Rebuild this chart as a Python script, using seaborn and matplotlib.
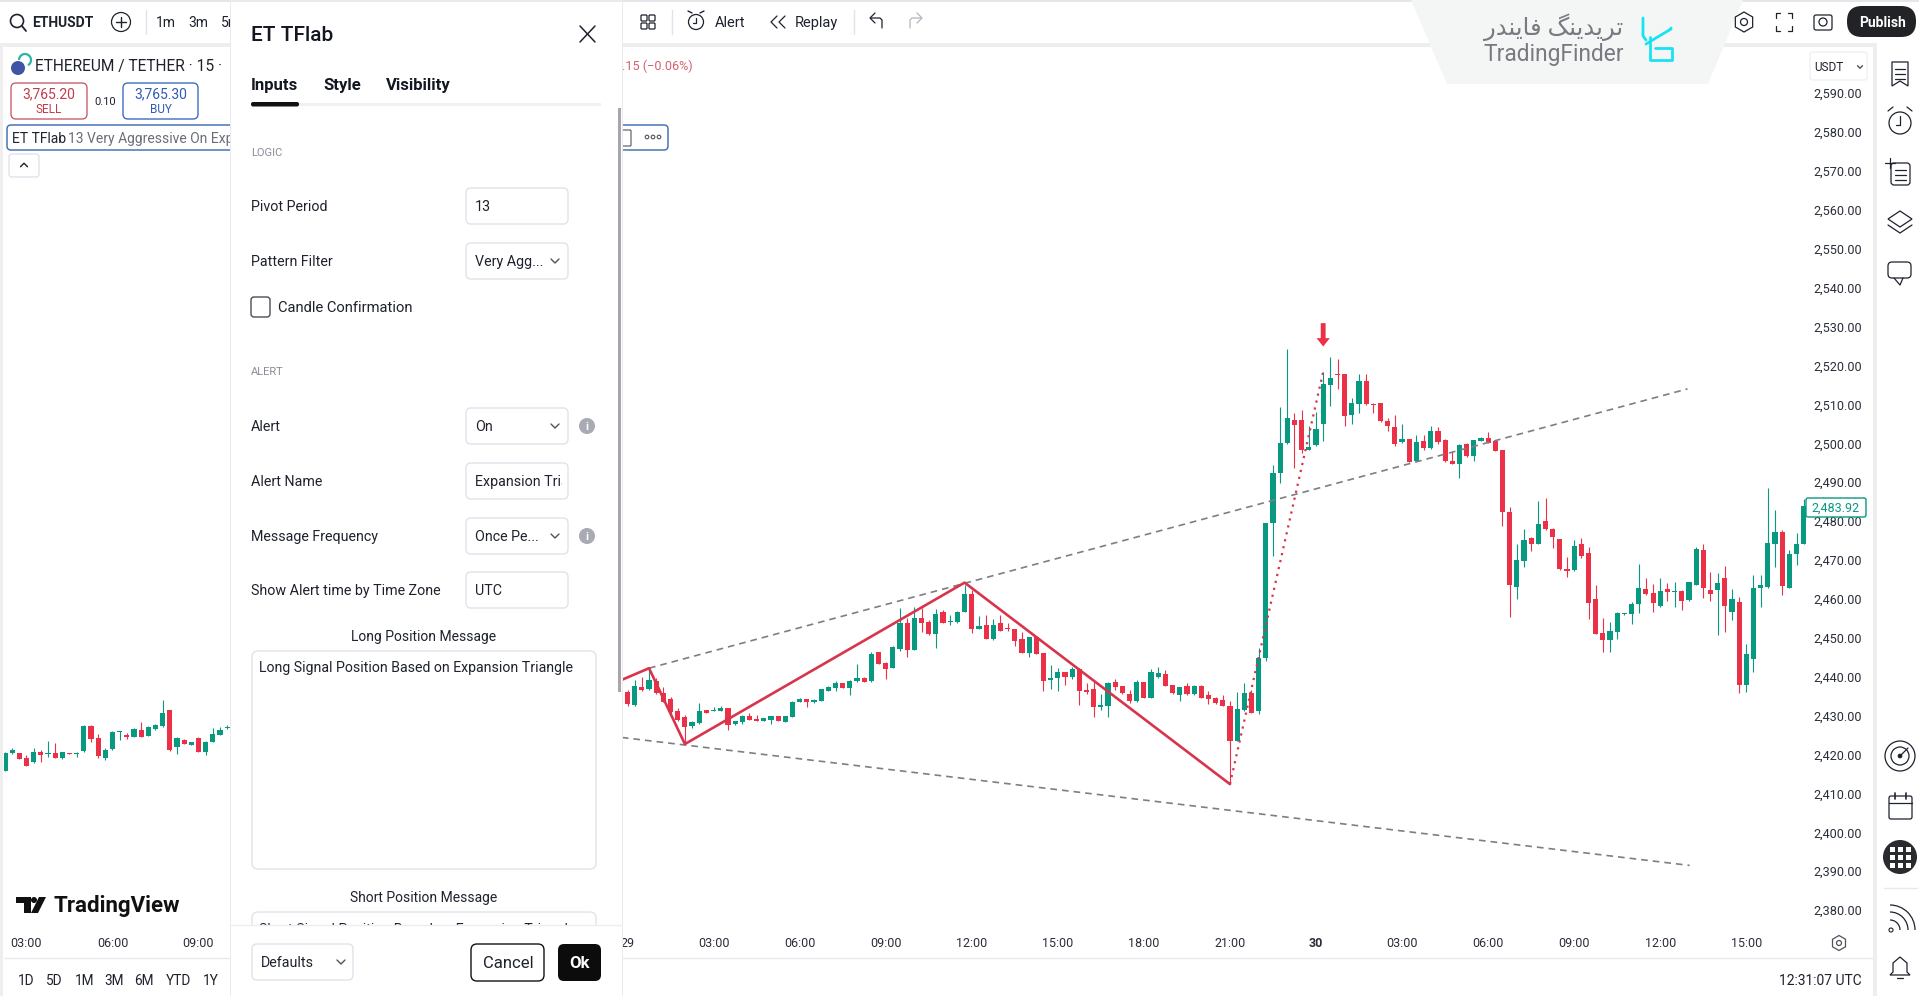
import numpy as np
import pandas as pd
import seaborn as sns
import matplotlib.pyplot as plt
from matplotlib.patches import Circle, FancyBboxPatch, Polygon, Rectangle, RegularPolygon, Arc

# main pane, 15 minute candles
opens = [2436.2, 2432.8, 2437.3, 2436.8, 2439.0, 2435.7, 2434.3, 2431.3, 2429.7, 2427.3, 2428.0, 2431.4, 2431.2, 2431.2, 2431.9, 2427.8, 2428.3, 2430.0, 2429.1, 2428.7, 2429.0, 2429.9, 2428.4, 2429.7, 2433.5, 2434.2, 2433.6, 2433.8, 2436.4, 2437.2, 2438.4, 2437.2, 2438.8, 2439.8, 2438.8, 2446.3, 2443.6, 2442.2, 2447.2, 2453.7, 2447.0, 2455.1, 2454.1, 2451.0, 2456.6, 2454.0, 2454.1, 2456.6, 2461.3, 2452.4, 2453.4, 2449.7, 2453.7, 2452.6, 2452.2, 2449.7, 2446.1, 2450.2, 2446.0, 2439.1, 2439.7, 2441.1, 2439.9, 2442.1, 2436.6, 2436.8, 2432.1, 2432.6, 2438.6, 2437.5, 2435.6, 2433.8, 2438.6, 2434.6, 2439.9, 2440.7, 2437.8, 2435.3, 2437.6, 2435.5, 2437.6, 2435.2, 2434.5, 2434.0, 2432.5, 2423.6, 2431.5, 2435.7, 2431.3, 2444.7,
         2479.4, 2492.5, 2500.0, 2506.0, 2505.9, 2498.4, 2499.5, 2504.9, 2515.0, 2517.8, 2517.7, 2507.3, 2510.0, 2516.0, 2510.2, 2510.4, 2505.8, 2504.2, 2500.3, 2501.0, 2495.4, 2500.5, 2498.7, 2503.1, 2500.9, 2495.4, 2494.7, 2499.8, 2496.7, 2500.7, 2501.5, 2500.7, 2498.2, 2482.4, 2463.2, 2469.8, 2475.7, 2474.1, 2480.0, 2478.1, 2475.4, 2467.6, 2467.4, 2474.0, 2471.7, 2459.9, 2451.2, 2449.5, 2451.6, 2456.1, 2456.1, 2458.6, 2462.6, 2461.6, 2458.3, 2462.5, 2461.9, 2462.1, 2459.7, 2463.6, 2472.6, 2462.4, 2462.3, 2465.3, 2456.6, 2459.3, 2437.9, 2444.5, 2462.9, 2463.2, 2474.0, 2477.1, 2462.9, 2471.5, 2474.0]
highs = [2436.6, 2439.2, 2440.0, 2441.9, 2439.6, 2437.3, 2434.7, 2431.9, 2430.1, 2428.7, 2433.3, 2431.5, 2432.3, 2432.5, 2431.9, 2428.7, 2430.1, 2430.8, 2430.1, 2429.4, 2430.0, 2430.0, 2430.0, 2433.8, 2434.5, 2434.3, 2434.3, 2436.9, 2437.6, 2439.0, 2438.5, 2439.1, 2443.3, 2440.0, 2446.4, 2446.4, 2443.8, 2447.9, 2457.6, 2455.0, 2457.9, 2457.6, 2454.6, 2457.3, 2457.2, 2455.9, 2457.0, 2463.6, 2462.3, 2455.6, 2456.0, 2454.8, 2455.9, 2453.9, 2452.3, 2451.6, 2450.3, 2450.3, 2446.1, 2443.0, 2442.3, 2441.2, 2442.6, 2442.3, 2438.3, 2438.7, 2435.6, 2438.6, 2439.5, 2437.7, 2436.6, 2439.2, 2438.7, 2442.1, 2442.6, 2441.7, 2437.9, 2437.4, 2438.3, 2438.0, 2437.9, 2436.4, 2434.9, 2435.2, 2433.8, 2436.2, 2438.3, 2436.6, 2447.5, 2479.6,
         2494.4, 2509.4, 2524.2, 2507.7, 2508.7, 2504.4, 2508.1, 2518.4, 2522.3, 2521.6, 2517.8, 2511.6, 2517.8, 2517.8, 2510.3, 2510.5, 2506.4, 2507.2, 2505.0, 2501.1, 2502.1, 2502.2, 2504.4, 2504.3, 2501.2, 2498.1, 2499.9, 2500.0, 2500.9, 2501.7, 2503.0, 2500.9, 2498.4, 2483.6, 2474.0, 2478.0, 2475.8, 2485.1, 2485.9, 2478.2, 2475.5, 2470.9, 2475.1, 2475.7, 2473.3, 2463.6, 2455.0, 2454.2, 2456.7, 2456.5, 2459.3, 2469.0, 2465.3, 2463.8, 2465.3, 2464.2, 2464.4, 2462.2, 2464.4, 2473.4, 2474.0, 2467.0, 2466.6, 2468.6, 2462.5, 2460.6, 2448.3, 2466.1, 2466.1, 2488.4, 2482.8, 2477.7, 2472.6, 2476.9, 2485.7]
lows = [2432.6, 2432.6, 2436.4, 2436.7, 2435.6, 2433.4, 2430.6, 2428.7, 2423.3, 2426.9, 2427.8, 2430.6, 2431.1, 2431.1, 2426.3, 2427.7, 2427.8, 2428.8, 2428.6, 2428.6, 2427.8, 2428.6, 2428.4, 2429.7, 2433.4, 2432.3, 2433.3, 2433.7, 2436.3, 2436.4, 2437.1, 2435.4, 2438.7, 2438.6, 2438.7, 2443.2, 2439.3, 2442.2, 2446.5, 2445.0, 2447.0, 2451.6, 2450.8, 2447.5, 2453.7, 2453.4, 2453.9, 2456.6, 2451.2, 2452.3, 2449.7, 2449.5, 2451.8, 2451.8, 2447.9, 2446.1, 2445.0, 2445.8, 2436.3, 2436.8, 2436.4, 2437.9, 2439.3, 2432.8, 2435.6, 2429.7, 2431.5, 2429.7, 2436.6, 2435.6, 2433.2, 2433.6, 2434.5, 2434.5, 2439.7, 2437.6, 2435.6, 2433.7, 2435.3, 2435.2, 2434.5, 2432.9, 2433.0, 2432.6, 2412.6, 2423.5, 2431.3, 2430.8, 2430.4, 2444.1,
        2471.0, 2489.9, 2499.8, 2493.6, 2497.4, 2498.3, 2499.4, 2500.7, 2509.6, 2513.9, 2504.5, 2505.1, 2507.7, 2509.9, 2507.7, 2505.6, 2503.3, 2499.2, 2500.0, 2495.2, 2495.4, 2498.3, 2498.6, 2499.8, 2495.2, 2494.6, 2491.0, 2496.4, 2495.5, 2500.5, 2500.0, 2498.0, 2478.8, 2455.4, 2460.0, 2468.1, 2472.2, 2474.0, 2477.7, 2473.2, 2467.5, 2465.6, 2467.3, 2470.4, 2454.8, 2451.0, 2446.4, 2446.4, 2449.6, 2456.0, 2453.5, 2456.3, 2461.1, 2456.6, 2458.0, 2459.5, 2458.0, 2457.2, 2459.6, 2463.5, 2460.3, 2459.4, 2450.7, 2451.6, 2454.6, 2435.7, 2436.0, 2441.1, 2458.0, 2462.9, 2468.3, 2461.0, 2462.8, 2468.7, 2474.0]
closes = [2433.0, 2437.6, 2436.6, 2439.2, 2435.7, 2433.6, 2431.0, 2429.0, 2427.0, 2428.3, 2431.3, 2430.8, 2431.5, 2431.9, 2427.6, 2428.5, 2429.9, 2429.0, 2428.7, 2429.3, 2429.9, 2428.7, 2429.9, 2433.6, 2434.3, 2433.5, 2433.9, 2436.8, 2437.3, 2438.4, 2437.2, 2439.0, 2439.6, 2438.7, 2445.8, 2443.3, 2442.0, 2447.7, 2453.7, 2447.0, 2455.1, 2453.8, 2451.0, 2456.2, 2453.8, 2454.3, 2456.7, 2461.3, 2452.3, 2453.0, 2449.8, 2453.4, 2451.8, 2452.3, 2449.3, 2446.2, 2450.2, 2445.8, 2438.8, 2439.8, 2441.1, 2440.0, 2442.1, 2436.3, 2436.2, 2432.3, 2432.7, 2438.4, 2437.4, 2435.7, 2433.8, 2438.7, 2434.6, 2441.2, 2440.9, 2437.7, 2435.7, 2437.3, 2435.6, 2437.6, 2434.6, 2434.3, 2433.2, 2432.6, 2423.6, 2431.6, 2435.9, 2430.8, 2444.8, 2479.6,
          2492.3, 2500.2, 2506.4, 2504.8, 2498.3, 2499.1, 2503.6, 2515.2, 2516.9, 2517.5, 2507.1, 2510.4, 2516.0, 2510.0, 2509.8, 2505.7, 2504.5, 2499.9, 2501.0, 2495.3, 2500.4, 2498.8, 2503.2, 2500.3, 2495.4, 2494.7, 2499.7, 2496.7, 2500.8, 2501.5, 2500.2, 2498.0, 2482.3, 2463.6, 2470.0, 2475.1, 2474.1, 2479.3, 2478.1, 2475.8, 2467.6, 2467.3, 2473.7, 2471.0, 2458.9, 2451.1, 2449.5, 2451.8, 2456.3, 2456.5, 2458.8, 2462.7, 2461.3, 2458.9, 2462.1, 2461.8, 2462.1, 2459.5, 2464.3, 2472.9, 2462.7, 2461.4, 2464.0, 2458.3, 2459.9, 2437.9, 2445.8, 2462.7, 2463.6, 2474.3, 2477.1, 2463.3, 2471.5, 2474.0, 2483.9]

# left pane, scrolled to the earlier candles
left_opens = [2415.8, 2420.3, 2420.3, 2419.0, 2418.0, 2420.7, 2420.1, 2420.5, 2419.1, 2420.5, 2420.1, 2420.8, 2427.4, 2424.3, 2419.0, 2421.4, 2425.7, 2424.9, 2424.5, 2426.3, 2424.8, 2426.5, 2427.3, 2431.5, 2422.0, 2423.8, 2422.5, 2424.2, 2420.7, 2423.3, 2425.0, 2426.7]
left_highs = [2420.7, 2421.8, 2420.4, 2419.8, 2421.8, 2421.3, 2423.5, 2422.9, 2420.7, 2420.5, 2420.6, 2427.5, 2427.5, 2425.2, 2421.6, 2426.0, 2426.1, 2425.5, 2426.7, 2428.3, 2427.3, 2427.8, 2434.0, 2431.5, 2424.4, 2424.1, 2423.3, 2424.4, 2423.5, 2426.9, 2427.2, 2427.6]
left_lows = [2415.7, 2420.2, 2418.8, 2417.1, 2417.9, 2418.0, 2419.3, 2419.0, 2418.9, 2420.2, 2419.3, 2420.7, 2423.1, 2419.2, 2418.6, 2421.3, 2423.7, 2424.0, 2424.4, 2424.4, 2424.7, 2426.4, 2427.2, 2421.0, 2420.1, 2422.7, 2422.4, 2420.7, 2419.9, 2423.2, 2424.9, 2426.6]
left_closes = [2420.3, 2421.3, 2418.9, 2417.1, 2420.7, 2420.0, 2420.3, 2419.1, 2420.6, 2420.2, 2420.5, 2427.4, 2424.1, 2419.6, 2421.2, 2425.7, 2426.0, 2424.6, 2426.6, 2424.6, 2427.2, 2427.5, 2430.8, 2421.1, 2424.2, 2422.8, 2423.2, 2420.7, 2423.2, 2425.4, 2426.3, 2427.1]

# pattern lines, candle index and price
zigzag_idx = [-0.8, 3, 8, 47, 84]
zigzag_price = [2439.2, 2442.2, 2422.7, 2464.2, 2412.4]
dotted_idx = [84, 97]
dotted_price = [2412.4, 2518.4]
upper_idx = [3, 147.8]
upper_price = [2442.2, 2514.0]
lower_idx = [-0.8, 148.1]
lower_price = [2424.4, 2391.5]

price_ticks = list(range(2380, 2600, 10))
time_idx = [0, 12, 24, 36, 48, 60, 72, 84, 96, 108, 120, 132, 144, 156]
time_labels = ["29", "03:00", "06:00", "09:00", "12:00", "15:00", "18:00", "21:00", "30", "03:00", "06:00", "09:00", "12:00", "15:00"]
left_time_idx = [3, 15, 27]
left_time_labels = ["03:00", "06:00", "09:00"]
last_price = 2483.92

W, H = 1919, 996
GREEN = "#089981"
RED = "#ea3148"
INK = "#1e222d"
GREY = "#6a6d78"
LINE = "#e0e3eb"

sns.set_theme(style="white")
plt.rcParams["font.family"] = ["Roboto", "DejaVu Sans"]

fig = plt.figure(figsize=(W / 100, H / 100), dpi=100, facecolor="white")


def pane(x0, y0, x1, y1):
    return fig.add_axes([x0 / W, 1 - y1 / H, (x1 - x0) / W, (y1 - y0) / H], facecolor="none")


def draw_candles(ax, o, h, l, c):
    df = pd.DataFrame({"i": np.arange(len(o)), "open": o, "high": h, "low": l, "close": c})
    df["bottom"] = df[["open", "close"]].min(axis=1)
    df["size"] = (df["close"] - df["open"]).abs()
    for rising, color in [(True, GREEN), (False, RED)]:
        part = df[(df["close"] > df["open"]) == rising]
        ax.vlines(part["i"], part["low"], part["high"], color=color, lw=0.8, zorder=1)
        sns.barplot(x=part["i"].values, y=part["size"].values, bottom=part["bottom"].values,
                    native_scale=True, orient="x", width=0.72, color=color, saturation=1,
                    errorbar=None, linewidth=0, ax=ax, zorder=2)
    ax.set(xlabel="", ylabel="")


# chart panes
ax = pane(622, 44, 1808, 930)
draw_candles(ax, opens, highs, lows, closes)
sns.lineplot(x=upper_idx, y=upper_price, color="#7d7f86", lw=1.2, linestyle=(0, (4, 3)), ax=ax, legend=False, zorder=3)
sns.lineplot(x=lower_idx, y=lower_price, color="#7d7f86", lw=1.2, linestyle=(0, (4, 3)), ax=ax, legend=False, zorder=3)
sns.lineplot(x=zigzag_idx, y=zigzag_price, sort=False, estimator=None, color="#d8344c", lw=1.9, ax=ax, legend=False, zorder=4)
sns.lineplot(x=dotted_idx, y=dotted_price, color="#d8344c", lw=1.6, linestyle=(0, (1, 2.2)), ax=ax, legend=False, zorder=4)
ax.annotate("", xy=(97, 2524.9), xytext=(97, 2530.9),
            arrowprops=dict(facecolor=RED, edgecolor="none", width=3.5, headwidth=9.5, headlength=6, shrink=0))
ax.set_xlim(-0.77, 164.6)
ax.set_ylim(2374.9, 2602.66)
ax.yaxis.tick_right()
ax.set_yticks(price_ticks, [f"{p:,.2f}" for p in price_ticks])
ax.set_xticks(time_idx, time_labels)
ax.tick_params(axis="y", length=0, pad=4.0, labelsize=9.1, labelcolor="#2a2e39")
ax.tick_params(axis="x", length=0, pad=5.0, labelsize=9, labelcolor="#2a2e39")
ax.get_xticklabels()[8].set_fontweight("bold")
sns.despine(ax=ax, left=True, bottom=True, right=True, top=True)

left = pane(4, 44, 230, 930)
draw_candles(left, left_opens, left_highs, left_lows, left_closes)
left.set_xlim(-0.13, 31.4)
left.set_ylim(2374.9, 2602.66)
left.set_yticks([])
left.set_xticks(left_time_idx, left_time_labels)
left.tick_params(axis="x", length=0, pad=5.0, labelsize=9, labelcolor="#2a2e39")
sns.despine(ax=left, left=True, bottom=True, right=True, top=True)

# everything around the charts is drawn in pixel coordinates
ui = fig.add_axes([0, 0, 1, 1], facecolor="none")
ui.set_xlim(0, W)
ui.set_ylim(H, 0)
ui.axis("off")
ax.set_zorder(1)
left.set_zorder(1)
ui.set_zorder(2)


def txt(x, y, s, size=10, color=INK, ha="left", weight="normal"):
    return ui.text(x, y + 1.2, s, fontsize=size, color=color, ha=ha, va="center", fontweight=weight)


def rect(x0, y0, x1, y1, fc="white", ec="none", lw=0):
    ui.add_patch(Rectangle((x0, y0), x1 - x0, y1 - y0, fc=fc, ec=ec, lw=lw))


def rbox(x0, y0, x1, y1, r=5, fc="white", ec=LINE, lw=1.0):
    p = FancyBboxPatch((x0 + r, y0 + r), x1 - x0 - 2 * r, y1 - y0 - 2 * r,
                       boxstyle=f"round,pad={r},rounding_size={r}", fc=fc, ec=ec, lw=lw)
    ui.add_patch(p)
    return p


def seg(xs, ys, color=INK, lw=1.0):
    ui.plot(xs, ys, color=color, lw=lw, solid_capstyle="round")


def ring(x, y, r, fc="none", ec=INK, lw=1.0):
    ui.add_patch(Circle((x, y), r, fc=fc, ec=ec, lw=lw))


def chevron(x, y, size=4, up=False, color="#50535e"):
    d = -size if up else size
    seg([x - size, x, x + size], [y - d / 2, y + d / 2, y - d / 2], color=color, lw=1.0)


# bands between the panes
rect(0, 0, W, 1.5, fc="#e6e6e8")
rect(0, 43, 1873, 47, fc="#eeeeef")
rect(0, 43, 3, H, fc="#eeeeef")
rect(1873, 43, 1877, H, fc="#eeeeef")
seg([4, 1873], [958, 958], color="#e8e9ec", lw=1.0)

# top toolbar
ring(17, 21, 6.5, lw=1.2)
seg([22, 26], [26, 31], lw=1.3)
txt(32, 22, "ETHUSDT", 10, weight="bold")
ring(121, 22, 9.5, lw=0.9)
seg([121, 121], [17, 27])
seg([116, 126], [22, 22])
seg([146, 146], [10, 34], color=LINE)
txt(166, 22, "1m", 10, ha="center")
txt(198, 22, "3m", 10, ha="center")
txt(221, 22, "5m", 10)
for gx, gy in [(644, 18), (652, 18), (644, 26), (652, 26)]:
    rbox(gx - 3, gy - 3, gx + 3, gy + 3, r=1, fc="none", ec=INK, lw=0.9)
seg([672, 672], [10, 34], color=LINE)
ring(696, 22, 7.5, lw=0.9)
seg([688, 692], [11, 13])
seg([704, 700], [11, 13])
seg([696, 696, 693], [18, 23, 23], lw=0.9)
txt(715, 22, "Alert", 10.5)
seg([777, 771, 777], [16, 22, 28], lw=0.9)
seg([785, 779, 785], [16, 22, 28], lw=0.9)
txt(795, 22, "Replay", 10.5)
seg([854, 854], [10, 34], color=LINE)
seg([871, 880, 882, 882], [18, 18, 20, 28], lw=0.9)
seg([875, 870, 875], [13, 18, 23], lw=0.9)
seg([921, 912, 910, 910], [18, 18, 20, 28], color="#b2b5be", lw=0.9)
seg([917, 922, 917], [13, 18, 23], color="#b2b5be", lw=0.9)
ui.add_patch(Polygon([(1411, 0), (1743, 0), (1708, 84), (1447, 84)], closed=True, fc="#f4f5f5", ec="none", joinstyle="round"))
txt(1554, 26, "\ufead\ufeaa\ufee8\ufbfe\ufe8e\ufed3 \ufb93\ufee8\ufbfe\ufeaa\ufbfe\ufeae\ufe97", 17.5, color="#777a80", ha="center")
txt(1554, 53, "TradingFinder", 16.4, color="#777a80", ha="center")
seg([1643, 1643, 1646], [18, 36, 40], color="#19e3f2", lw=2)
seg([1646, 1671, 1671], [44, 29, 28], color="#19e3f2", lw=2)
seg([1650, 1650, 1672, 1672, 1655], [37, 60, 60, 48, 48], color="#19e3f2", lw=2)
ui.add_patch(RegularPolygon((1744, 22), 6, radius=10, fc="none", ec=INK, lw=0.9))
ring(1744, 22, 3.5, lw=0.9)
for sx, sy in [(-1, -1), (1, -1), (-1, 1), (1, 1)]:
    seg([1784 + sx * 4, 1784 + sx * 8, 1784 + sx * 8], [22 + sy * 9, 22 + sy * 9, 22 + sy * 4], lw=0.9)
rbox(1814, 15, 1832, 30, r=2, fc="none", ec=INK, lw=0.9)
ring(1823, 22, 4, lw=0.9)
rbox(1847, 6, 1916, 37, r=15, fc="#222326", ec="none")
txt(1882, 22, "Publish", 10, color="white", ha="center", weight="bold")

# price scale extras
rbox(1810, 52, 1867, 80, r=3, ec="#eef0f3")
txt(1814, 66, "USDT", 8.5)
chevron(1860, 67, size=2.5)
rbox(1806, 498, 1866, 517, r=2, ec=GREEN, lw=1.0)
txt(1836, 507, f"{last_price:,.2f}", 9, color=GREEN, ha="center")
ui.add_patch(RegularPolygon((1839, 943), 6, radius=7.5, fc="none", ec="#50535e", lw=0.9))
ring(1839, 943, 2.5, ec="#50535e", lw=0.9)
txt(1862, 980, "12:31:07 UTC", 10, ha="right")

# right sidebar
ui.add_patch(Polygon([(1892, 62), (1908, 62), (1908, 86), (1900, 81), (1892, 86)], closed=True, fc="none", ec=INK, lw=0.9))
for ly in [69, 74, 79]:
    seg([1895, 1905], [ly, ly], lw=0.9)
ring(1900, 123, 11, lw=0.9)
seg([1900, 1900, 1896], [116, 125, 125], lw=0.9)
seg([1888, 1893], [111, 107], lw=0.9)
seg([1912, 1907], [111, 107], lw=0.9)
rbox(1891, 163, 1910, 185, r=3, fc="none", ec=INK, lw=0.9)
for ly in [170, 175, 180]:
    seg([1895, 1906], [ly, ly], lw=0.9)
seg([1885, 1895], [163, 163], lw=0.9)
seg([1890, 1890], [158, 168], lw=0.9)
ui.add_patch(Polygon([(1900, 211), (1912, 219), (1900, 227), (1888, 219)], closed=True, fc="white", ec=INK, lw=0.9))
seg([1888, 1900, 1912], [225, 233, 225], lw=0.9)
rbox(1888, 262, 1911, 278, r=4, fc="none", ec=INK, lw=0.9)
seg([1894, 1900, 1903], [278, 285, 278], lw=0.9)
ring(1900, 756, 15, lw=0.9)
ring(1900, 756, 9, lw=0.9)
ring(1900, 756, 2, fc=INK, lw=0.5)
seg([1900, 1908], [756, 748], lw=0.9)
rbox(1889, 796, 1912, 819, r=2, fc="none", ec=INK, lw=0.9)
seg([1889, 1912], [803, 803], lw=0.9)
seg([1895, 1895], [793, 799], lw=1.2)
seg([1906, 1906], [793, 799], lw=1.2)
ring(1900, 857, 17, fc="#2a2b2e", ec="none")
for gx in [1892, 1900, 1908]:
    for gy in [849, 857, 865]:
        rect(gx - 2.5, gy - 2.5, gx + 2.5, gy + 2.5, fc="white")
seg([1884, 1917], [888, 888], color="#e8e9ec")
ring(1891, 930, 2, lw=0.8)
for r in [10, 18, 25]:
    ui.add_patch(Arc((1890, 930), 2 * r, 2 * r, theta1=270, theta2=360, ec=INK, lw=0.9))
ui.add_patch(Polygon([(1890, 975), (1893, 972), (1893, 963), (1900, 957), (1907, 963), (1907, 972), (1910, 975)],
                     closed=True, fc="none", ec=INK, lw=0.9))
seg([1897, 1903], [978, 978], lw=0.9)

# left pane texts
ring(18, 68, 7, fc="#3f55a5", ec="none")
ui.add_patch(Arc((25, 60), 12, 12, theta1=180, theta2=60, ec="#2bb3a3", lw=1.6))
txt(35, 65, "ETHEREUM / TETHER · 15 ·", 11.2)
rbox(11, 83, 87, 119, r=5, ec="#c9606e", lw=1.0)
txt(49, 93, "3,765.20", 10, color="#c23a4c", ha="center")
txt(49, 108, "SELL", 8.5, color="#c23a4c", ha="center")
txt(105, 101, "0.10", 8, ha="center")
rbox(123, 83, 198, 119, r=5, ec="#3f6dc4", lw=1.0)
txt(161, 93, "3,765.30", 10, color="#3159b8", ha="center")
txt(161, 108, "BUY", 8.5, color="#3159b8", ha="center")
rbox(7, 125, 668, 150, r=4, ec="#4a74b8", lw=1.1)
txt(12, 138, "ET TFlab", 10)
txt(68, 138, "13 Very Aggressive On Expansion Triangle", 10, color=GREY)
rbox(9, 154, 39, 177, r=3, ec=LINE)
chevron(24, 165, size=3.5, up=True, color=INK)
txt(622, 65, ".15 (−0.06%)", 9.1, color="#d4606f")
rbox(622, 130, 631, 146, r=1, fc="none", ec="#50535e", lw=0.8)
for dx in [647, 653, 659]:
    ring(dx, 137, 1.8, ec="#50535e", lw=0.8)
ui.add_patch(Polygon([(16, 897), (31, 897), (31, 913), (24, 913), (24, 903), (16, 903)], closed=True, fc="#111", ec="none"))
ring(34, 900, 3, fc="#111", ec="none")
ui.add_patch(Polygon([(39, 897), (46, 897), (38, 913), (31, 913)], closed=True, fc="#111", ec="none"))
txt(53, 905, "TradingView", 16, color="#111", weight="bold")
for rx, rs in zip([25.7, 54, 84.5, 114, 144, 178, 211], ["1D", "5D", "1M", "3M", "6M", "YTD", "1Y"]):
    txt(rx, 980, rs, 9.8, ha="center")

# settings dialog
rect(230, 0, 623, H, fc="#e9eaec")
rect(231, 1.5, 622, H, fc="white")
txt(251, 34, "ET TFlab", 15, color="#131722", weight="medium")
seg([580, 595], [26, 42], lw=1.1)
seg([595, 580], [26, 42], lw=1.1)
txt(251, 84, "Inputs", 12, color="#131722", weight="bold")
txt(323, 84, "Style", 12, color="#131722", weight="bold")
txt(386, 84, "Visibility", 12, color="#131722", weight="bold")
rect(299, 103, 601, 105.5, fc="#f0f1f3")
rbox(251, 102, 299, 106.5, r=2, fc="#111", ec="none")
rect(618, 108, 621, 692, fc="#a5a7ab")
txt(251, 152, "LOGIC", 8, color="#8a8d96")
txt(251, 371, "ALERT", 8, color="#8a8d96")

field_labels = ["Pivot Period", "Pattern Filter", "Alert", "Alert Name", "Message Frequency", "Show Alert time by Time Zone"]
field_values = ["13", "Very Agg...", "On", "Expansion Triangle", "Once Pe...", "UTC"]
field_rows = [206, 261, 426, 481, 536, 590]
field_chevron = [False, True, True, False, True, False]
field_info = [False, False, True, False, True, False]
for label, value, fy, chev, info in zip(field_labels, field_values, field_rows, field_chevron, field_info):
    txt(251, fy, label, 10.3)
    rbox(466, fy - 18, 568, fy + 18, r=5)
    t = txt(475, fy, value, 10.3)
    t.set_clip_on(True)
    t.set_clip_path(Rectangle((470, fy - 14), 92, 28, transform=ui.transData))
    if chev:
        chevron(555, fy, size=4)
    if info:
        ring(587, fy, 8, fc="#a8abb3", ec="none")
        txt(587, fy, "i", 8, color="white", ha="center", weight="bold")
rbox(251, 297, 270, 317, r=3, ec="#4a4d57", lw=1.0)
txt(278, 307, "Candle Confirmation", 10.6)
txt(423.5, 636, "Long Position Message", 10, ha="center")
rbox(252, 651, 596, 869, r=6)
txt(259, 667, "Long Signal Position Based on Expansion Triangle", 10.15)
txt(423.5, 897, "Short Position Message", 10, ha="center")
rbox(252, 912, 596, 960, r=6)
txt(259, 929, "Short Signal Position Based on Expansion Triangle", 10.15)
rect(231, 925, 622, H, fc="white")
seg([231, 622], [925, 925], color="#eceef1")
rbox(252, 944, 353, 980, r=5)
txt(261, 962, "Defaults", 10.3)
chevron(341, 962, size=4)
rbox(471, 944, 544, 981, r=6, ec="#111", lw=1.0)
txt(508, 962, "Cancel", 12, ha="center")
rbox(558, 944, 601, 981, r=6, fc="#0c0c0c", ec="none")
txt(579.5, 962, "Ok", 12, color="white", ha="center", weight="bold")

# keep painting order the same as creation order, so the dialog hides what lies behind it
for k, artist in enumerate(ui.get_children()):
    artist.set_zorder(k)

fig.savefig("out.png", dpi=100)
